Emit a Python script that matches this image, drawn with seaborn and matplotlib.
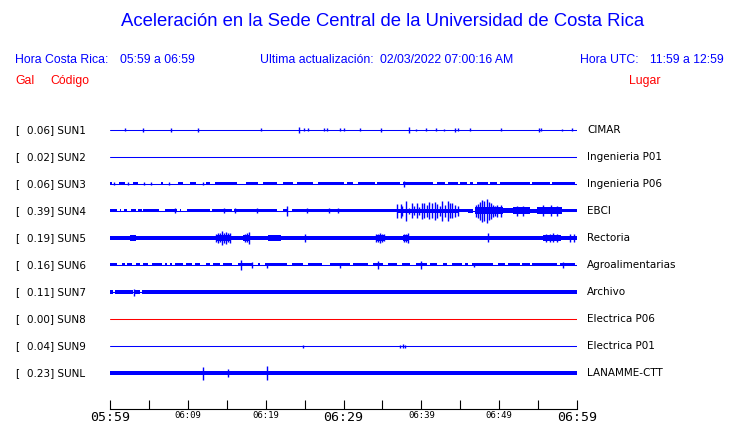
import matplotlib
matplotlib.use("Agg")
import matplotlib.pyplot as plt
import numpy as np
import pandas as pd
import seaborn as sns

sns.set_theme(style="white")
plt.rcParams["font.family"] = ["DejaVu Sans"]

# ---------------- data ----------------
title = "Aceleración en la Sede Central de la Universidad de Costa Rica"
hora_cr = "Hora Costa Rica:"
hora_cr_val = "05:59 a 06:59"
update_lbl = "Ultima actualización:"
update_val = "02/03/2022 07:00:16 AM"
hora_utc = "Hora UTC:"
hora_utc_val = "11:59 a 12:59"

stations = ["SUN1", "SUN2", "SUN3", "SUN4", "SUN5", "SUN6", "SUN7", "SUN8", "SUN9", "SUNL"]
gal = ["0.06", "0.02", "0.06", "0.39", "0.19", "0.16", "0.11", "0.00", "0.04", "0.23"]
places = ["CIMAR", "Ingenieria P01", "Ingenieria P06", "EBCI", "Rectoria",
          "Agroalimentarias", "Archivo", "Electrica P06", "Electrica P01", "LANAMME-CTT"]
trace_colors = ["#0000ff"] * 7 + ["#ff0000"] + ["#0000ff"] * 2

tick_minutes = [0, 5, 10, 15, 20, 25, 30, 35, 40, 45, 50, 55, 60]
tick_labels = ["05:59", "", "06:09", "", "06:19", "", "06:29", "", "06:39", "", "06:49", "", "06:59"]
big_ticks = ["05:59", "06:29", "06:59"]

# envelope bands: (start minute, end minute, half amplitude in px)
sun1_band = []
sun1_spk_t = [1.93, 4.24, 7.84, 11.3, 19.4, 24.3, 24.9, 25.4, 27.5, 27.9, 29.6, 30.1, 32.1,
              34.8, 38.4, 39.3, 40.6, 41.9, 42.9, 44.3, 44.7, 46.3, 50.2, 55.1, 55.4, 58.1, 59.4]
sun1_spk_a = [1.5, 2, 2, 2, 1.5, 3, 1.5, 1.5, 1.5, 1.5, 1.5, 1.5, 1.5,
              2, 3, 1, 1.5, 1.5, 1, 2, 1.5, 1.5, 1.5, 2, 1.5, 1, 1.5]

sun2_band = []
sun2_spk_t = []
sun2_spk_a = []

sun3_band = [(0.0, 0.3, 1.5), (1.16, 1.93, 1.5), (2.96, 3.6, 1.5), (6.55, 6.81, 1.5),
             (8.74, 9.38, 1.5), (10.28, 11.05, 1.5), (12.33, 12.85, 1.5), (13.49, 16.32, 1.5),
             (17.47, 19.02, 1.5), (19.66, 21.46, 1.5), (22.23, 23.51, 1.5), (24.03, 26.08, 1.5),
             (26.72, 30.07, 1.5), (30.45, 31.22, 1.5), (31.86, 34.05, 1.5), (34.3, 37.26, 1.5),
             (37.64, 41.5, 1.5), (42.01, 43.04, 1.5), (43.43, 44.71, 1.5), (44.97, 45.87, 1.5),
             (46.25, 46.64, 1.5), (47.15, 48.57, 1.5), (48.82, 49.72, 1.5), (50.1, 53.96, 1.5),
             (54.22, 56.53, 1.5), (56.79, 59.74, 1.5)]
sun3_spk_t = [0.5, 2.3, 4.4, 5.3, 7.6, 12.0, 37.77]
sun3_spk_a = [1.5, 1.5, 1.5, 1.5, 1.5, 1.5, 3]

sun4_band = [(0.0, 0.9, 1.5), (1.3, 1.4, 1.5), (1.8, 2.2, 1.5), (2.7, 3.4, 1.5),
             (3.6, 4.1, 1.5), (4.2, 6.3, 1.5), (7.1, 8.6, 1.5), (9.0, 9.1, 1.5),
             (9.9, 12.9, 1.5), (13.1, 15.7, 1.5), (15.9, 21.5, 1.5), (22.2, 22.8, 1.5),
             (23.4, 36.9, 1.5), (36.9, 44.7, 2.0), (44.7, 46.0, 1.5), (46.0, 46.6, 2.0),
             (46.9, 49.5, 3.5), (49.5, 50.5, 3.5), (50.5, 51.8, 2.5), (51.8, 54.0, 3.5),
             (54.0, 54.9, 2.0), (54.9, 58.1, 3.5), (58.1, 60.0, 1.5)]
sun4_spk_t = [8.35, 14.65, 16.06, 18.89, 22.74, 25.31, 28.14, 29.29,
              36.91, 37.35, 37.56, 38.07, 38.38, 38.76, 39.1, 39.41, 39.7, 40.05, 40.38,
              40.73, 41.02, 41.41, 41.72, 42.05, 42.4, 42.69, 43.08, 43.39, 43.72, 43.98,
              44.33, 44.71,
              46.98, 47.24, 47.54, 47.79, 48.09, 48.4, 48.69, 48.95, 49.25, 49.46, 49.72, 50.23,
              52.3, 53.1, 55.6, 56.6, 57.4]
sun4_spk_a = [2.5, 2.5, 2.5, 2.5, 5, 2.5, 2.5, 2.5,
              7, 7, 5, 10, 3, 7.5, 4.5, 7.5, 4, 8, 7.5,
              6, 8.5, 7.5, 9, 7, 5, 10, 6, 10, 7.5, 7.5,
              6, 5,
              6, 7, 9, 11, 10, 12, 9, 8, 6, 5, 6, 6,
              5, 5, 5.5, 5.5, 5]

sun5_band = [(0.0, 60.0, 2.2), (2.6, 3.3, 2.8), (13.6, 15.5, 3.0), (17.1, 18.0, 3.0),
             (20.3, 22.0, 2.8), (34.3, 35.2, 3.0), (37.6, 38.4, 3.0), (55.6, 58.0, 3.0)]
sun5_spk_t = [13.6, 13.88, 14.1, 14.39, 14.65, 14.9, 15.15, 15.42, 17.34, 17.6, 17.86,
              25.05, 34.2, 34.45, 34.69, 35.0, 35.2,
              37.77, 38.0, 38.29, 48.57, 56.0, 56.5, 56.92, 57.4, 59.1, 59.6]
sun5_spk_a = [4, 5, 4.5, 7, 5, 6, 4.5, 5, 4, 4.5, 6,
              4, 4, 4, 5, 4, 3.5,
              4, 4, 5, 4.5, 4, 4, 4.5, 4, 4, 4]

sun6_band = [(0.0, 0.9, 1.5), (1.54, 1.93, 1.5), (2.18, 2.83, 1.5), (3.34, 3.85, 1.5),
             (4.24, 4.88, 1.5), (5.4, 6.68, 1.5), (7.07, 7.32, 1.5), (7.71, 7.97, 1.5),
             (8.35, 9.38, 1.5), (9.76, 10.54, 1.5), (10.92, 11.56, 1.5), (12.33, 12.85, 1.5),
             (13.23, 14.13, 1.5), (14.52, 15.67, 1.5), (16.45, 18.37, 1.5), (19.02, 19.27, 1.5),
             (19.91, 22.74, 1.5), (23.38, 24.8, 1.5), (25.44, 27.24, 1.5), (28.27, 30.84, 1.5),
             (31.22, 33.15, 1.5), (33.79, 35.07, 1.5), (35.72, 36.87, 1.5), (37.52, 38.54, 1.5),
             (39.31, 40.73, 1.5), (41.11, 42.01, 1.5), (42.78, 43.3, 1.5), (43.94, 45.22, 1.5),
             (45.61, 46.0, 1.5), (46.51, 49.21, 1.5), (49.85, 50.75, 1.5), (51.13, 52.68, 1.5),
             (52.93, 53.96, 1.5), (54.22, 57.43, 1.5), (57.82, 59.74, 1.5)]
sun6_spk_t = [16.83, 18.24, 20.17, 29.55, 34.43, 39.96, 46.77, 58.2]
sun6_spk_a = [5, 3, 2.5, 2.5, 4, 3.5, 2, 3]

sun7_band = [(0.0, 0.4, 1.8), (0.65, 2.95, 1.8), (3.2, 3.85, 1.8), (4.1, 60.0, 1.8)]
sun7_spk_t = [3.08]
sun7_spk_a = [3.5]

sun8_band = []
sun8_spk_t = []
sun8_spk_a = []

sun9_band = []
sun9_spk_t = [24.8, 37.3, 37.7, 37.9]
sun9_spk_a = [1.5, 1.5, 2, 1.5]

sunl_band = [(0.0, 60.0, 1.8)]
sunl_spk_t = [11.95, 15.16, 20.17]
sunl_spk_a = [6.5, 4, 7]

bands = [sun1_band, sun2_band, sun3_band, sun4_band, sun5_band,
         sun6_band, sun7_band, sun8_band, sun9_band, sunl_band]
spikes_t = [sun1_spk_t, sun2_spk_t, sun3_spk_t, sun4_spk_t, sun5_spk_t,
            sun6_spk_t, sun7_spk_t, sun8_spk_t, sun9_spk_t, sunl_spk_t]
spikes_a = [sun1_spk_a, sun2_spk_a, sun3_spk_a, sun4_spk_a, sun5_spk_a,
            sun6_spk_a, sun7_spk_a, sun8_spk_a, sun9_spk_a, sunl_spk_a]

# ---------------- layout ----------------
W, H = 740, 423
ROW_PX = 27.0
fig = plt.figure(figsize=(W / 100, H / 100), dpi=100)
fig.patch.set_facecolor("white")

ax_left, ax_right, ax_top, ax_bottom = 110, 577, 115, 409
ax = fig.add_axes([ax_left / W, 1 - ax_bottom / H, (ax_right - ax_left) / W, (ax_bottom - ax_top) / H])
ax.set_facecolor("white")

rows = [-i for i in range(len(stations))]
base_df = pd.DataFrame({
    "t": [0, 60] * len(stations),
    "y": [r for r in rows for _ in range(2)],
    "station": [s for s in stations for _ in range(2)],
})
sns.lineplot(data=base_df, x="t", y="y", hue="station", palette=dict(zip(stations, trace_colors)),
             legend=False, ax=ax, linewidth=0.75, estimator=None, sort=False)

for r, c, band, st, sa in zip(rows, trace_colors, bands, spikes_t, spikes_a):
    for t0, t1, a in band:
        h = a / ROW_PX
        ax.fill_between([t0, t1], [r - h, r - h], [r + h, r + h], color=c, linewidth=0)
    if st:
        amps = np.array(sa) / ROW_PX
        ax.vlines(st, r - amps, r + amps, color=c, linewidth=1.0)

ax.set_xlim(0, 60)
ax.set_ylim(-(ax_bottom - 130) / ROW_PX, (130 - ax_top) / ROW_PX)
for s in ["left", "right", "top"]:
    ax.spines[s].set_visible(False)
ax.spines["bottom"].set_color("black")
ax.spines["bottom"].set_linewidth(0.8)
ax.set_yticks([])
ax.set_xticks(tick_minutes)
ax.set_xticklabels(tick_labels)
ax.tick_params(axis="x", direction="in", length=6.5, width=0.8, color="black", pad=1.5,
               bottom=True)
for lbl in ax.get_xticklabels():
    lbl.set_family("DejaVu Sans Mono")
    lbl.set_color("black")
    lbl.set_fontsize(9.5 if lbl.get_text() in big_ticks else 6.5)
ax.set_xlabel("")
ax.set_ylabel("")


def fx(x):
    return x / W


def fy(y):
    return 1 - y / H


blue = "#0000ff"
red = "#ff0000"
hf = ["Liberation Sans", "DejaVu Sans"]

fig.text(fx(383), fy(22), title, color=blue, fontsize=13.3, family=hf, ha="center", va="center")
fig.text(fx(15), fy(60), hora_cr, color=blue, fontsize=8.8, family=hf, ha="left", va="center")
fig.text(fx(120), fy(60), hora_cr_val, color=blue, fontsize=8.8, family=hf, ha="left", va="center")
fig.text(fx(260), fy(60), update_lbl, color=blue, fontsize=8.8, family=hf, ha="left", va="center")
fig.text(fx(380), fy(60), update_val, color=blue, fontsize=8.8, family=hf, ha="left", va="center")
fig.text(fx(580), fy(60), hora_utc, color=blue, fontsize=8.8, family=hf, ha="left", va="center")
fig.text(fx(724), fy(60), hora_utc_val, color=blue, fontsize=8.8, family=hf, ha="right", va="center")
fig.text(fx(15), fy(81), "Gal", color=red, fontsize=8.8, family=hf, ha="left", va="center")
fig.text(fx(50), fy(81), "Código", color=red, fontsize=8.8, family=hf, ha="left", va="center")
fig.text(fx(629), fy(81), "Lugar", color=red, fontsize=8.8, family=hf, ha="left", va="center")

for i, (s, g, p) in enumerate(zip(stations, gal, places)):
    y = 130 + ROW_PX * i
    fig.text(fx(15), fy(y), "[", color="black", fontsize=7.5, ha="left", va="center")
    fig.text(fx(27), fy(y), f"{g}] {s}", color="black", fontsize=7.5, ha="left", va="center")
    fig.text(fx(587), fy(y), p, color="black", fontsize=7.5, ha="left", va="center")

fig.savefig("out.png", dpi=100, facecolor="white")
